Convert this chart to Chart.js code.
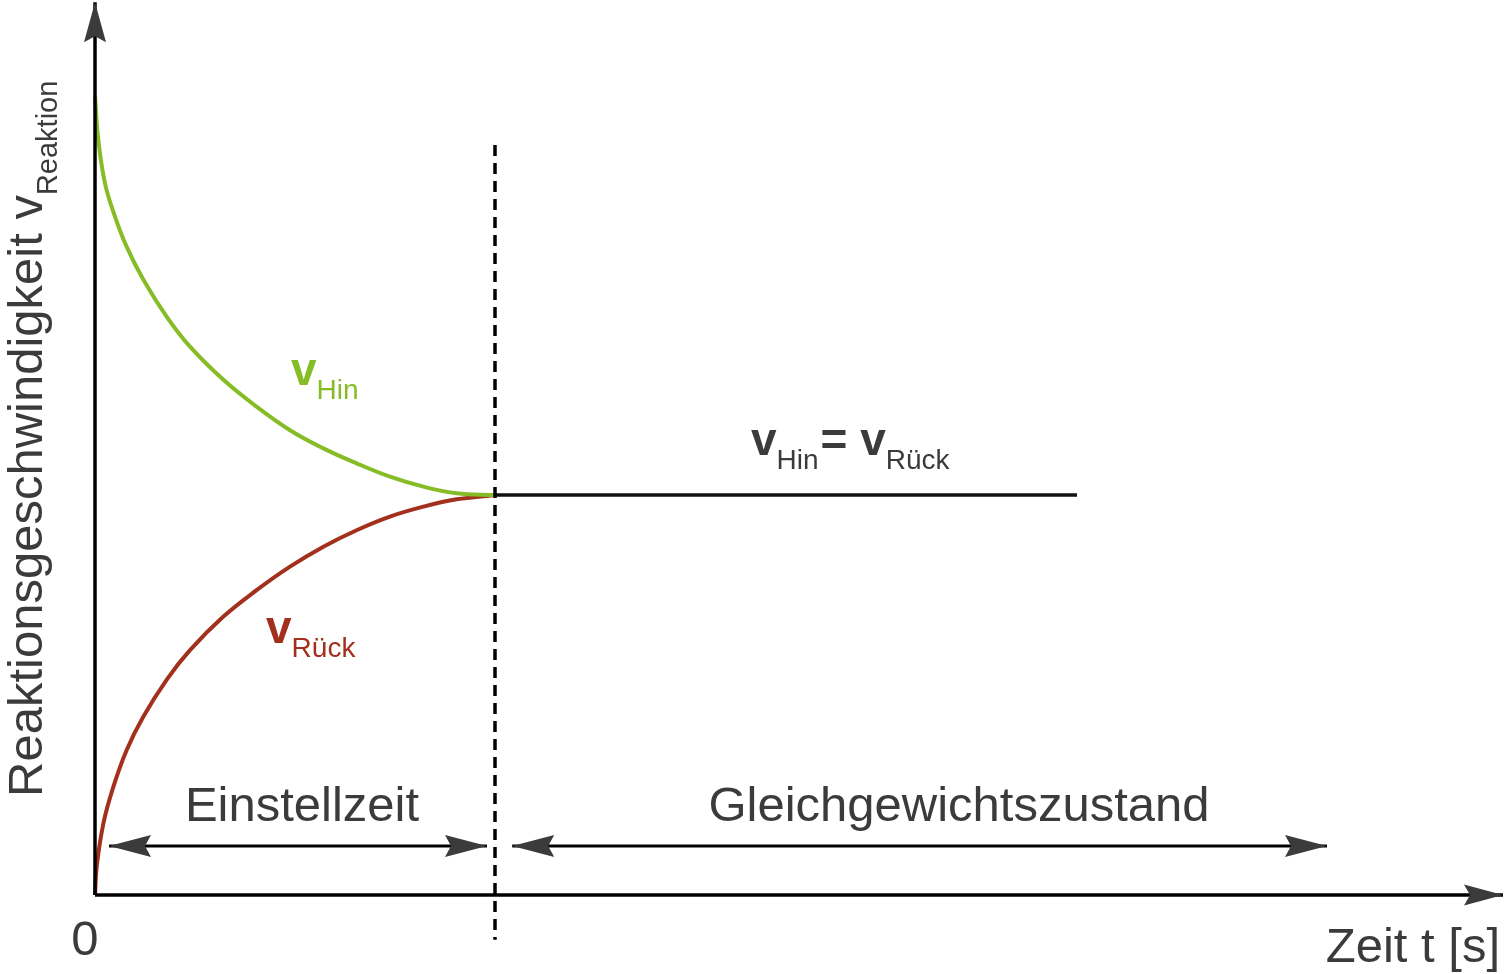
<!DOCTYPE html>
<html>
<head>
<meta charset="utf-8">
<script src="https://cdn.jsdelivr.net/npm/chart.js@4.4.1/dist/chart.umd.min.js"></script>
<style>
  html, body { margin: 0; padding: 0; background: #fff; }
  #chart { display: block; }
</style>
</head>
<body>
<canvas id="chart" width="1505" height="974"></canvas>
<script>
// Hinreaktion (grün) – Zeit t und Geschwindigkeit
var hinT = [0, 0.083, 0.25, 0.5, 0.79, 1.21, 1.79, 2.375, 3.21, 4.04, 4.875, 5.71, 6.54, 7.375, 8.21, 9.04, 10];
var hinV = [99.79, 94.4, 88.96, 84.79, 81.04, 76.9, 72.3, 68.54, 64.4, 61.04, 58.1, 55.83, 53.96, 52.29, 51.04, 50.21, 50];
// Rückreaktion (rot)
var rueckT = [0, 0.042, 0.21, 0.46, 0.79, 1.21, 1.79, 2.375, 3.21, 4.04, 4.875, 5.71, 6.54, 7.375, 8.21, 9.04, 10];
var rueckV = [0, 3.54, 8.96, 13.54, 18.1, 22.3, 26.9, 30.6, 34.8, 38.1, 41.04, 43.54, 45.6, 47.3, 48.54, 49.46, 50];
// Gleichgewicht
var eqT = [10, 24.55];
var eqV = [50, 50];
// Grenze Einstellzeit / Gleichgewicht (gestrichelt)
var grenzeT = [10, 10];
var grenzeV = [93.75, -5.6];
// Achsen
var xAchseT = [0, 35.2];
var yAchseV = [0, 111.6];
// Pfeile für die Bereiche
var einstellT = [0.35, 9.8];
var gleichT = [10.43, 30.8];
var pfeilV = 6.125;

function pts(xs, ys) {
  return xs.map(function (x, i) { return { x: x, y: ys[i] }; });
}

var dunkel = '#3b3b3b';
var gruen = '#86bc25';
var rot = '#a3301d';
var schrift = '"Liberation Sans", Arial, Helvetica, sans-serif';

// Pfeilspitze mit eingekerbter Rückseite
function spitze(ctx, x, y, winkel, len, halb, kerbe) {
  ctx.save();
  ctx.translate(x, y);
  ctx.rotate(winkel);
  ctx.beginPath();
  ctx.moveTo(0, 0);
  ctx.lineTo(-len, -halb);
  ctx.lineTo(-len + kerbe, 0);
  ctx.lineTo(-len, halb);
  ctx.closePath();
  ctx.fillStyle = dunkel;
  ctx.fill();
  ctx.restore();
}

// Text mit Index (z.B. v_Hin)
function mitIndex(ctx, x, y, haupt, index, farbe, fett) {
  ctx.fillStyle = farbe;
  ctx.font = (fett ? 'bold ' : '') + '46px ' + schrift;
  ctx.fillText(haupt, x, y);
  var w = ctx.measureText(haupt).width;
  ctx.font = '28px ' + schrift;
  ctx.fillText(index, x + w, y + 14);
  return x + w + ctx.measureText(index).width;
}

var beschriftung = {
  id: 'beschriftung',
  afterDatasetsDraw: function (chart) {
    var ctx = chart.ctx;
    var sx = chart.scales.x, sy = chart.scales.y;
    var px = function (t) { return sx.getPixelForValue(t); };
    var py = function (v) { return sy.getPixelForValue(v); };
    ctx.save();

    // Achsenpfeile
    spitze(ctx, px(xAchseT[1]), py(0), 0, 39, 10.5, 6);
    spitze(ctx, px(0), py(yAchseV[1]), -Math.PI / 2, 40, 11, 6);

    // Bereichspfeile
    spitze(ctx, px(einstellT[0]), py(pfeilV), Math.PI, 42, 11, 6);
    spitze(ctx, px(einstellT[1]), py(pfeilV), 0, 42, 11, 6);
    spitze(ctx, px(gleichT[0]), py(pfeilV), Math.PI, 42, 11, 6);
    spitze(ctx, px(gleichT[1]), py(pfeilV), 0, 42, 11, 6);

    ctx.textBaseline = 'alphabetic';

    // Bereichsnamen
    ctx.fillStyle = dunkel;
    ctx.font = '49px ' + schrift;
    ctx.textAlign = 'center';
    ctx.fillText('Einstellzeit', px(5.175), py(9.25));
    ctx.fillText('Gleichgewichtszustand', px(21.6), py(9.25));
    ctx.fillText('0', px(-0.25), py(-7.5));
    ctx.textAlign = 'right';
    ctx.fillText('Zeit t [s]', px(35.125), py(-8.4));
    ctx.textAlign = 'left';

    // Kurvennamen
    mitIndex(ctx, px(4.9), py(63.75), 'v', 'Hin', gruen, true);
    mitIndex(ctx, px(4.275), py(31.5), 'v', 'Rück', rot, true);
    var x = mitIndex(ctx, px(16.4), py(55), 'v', 'Hin', dunkel, true);
    ctx.font = 'bold 46px ' + schrift;
    ctx.fillText('= ', x + 2, py(55));
    x += 2 + ctx.measureText('= ').width;
    mitIndex(ctx, x, py(55), 'v', 'Rück', dunkel, true);

    // y-Achsentitel
    ctx.save();
    ctx.translate(px(-1.325), py(12.25));
    ctx.rotate(-Math.PI / 2);
    ctx.fillStyle = dunkel;
    ctx.font = '49px ' + schrift;
    var titel = 'Reaktionsgeschwindigkeit v';
    ctx.fillText(titel, 0, 0);
    var tw = ctx.measureText(titel).width;
    ctx.font = '29px ' + schrift;
    ctx.fillText('Reaktion', tw, 15);
    ctx.restore();

    ctx.restore();
  }
};

function linie(daten, farbe, breite, extra) {
  var d = {
    data: daten,
    showLine: true,
    borderColor: farbe,
    borderWidth: breite,
    pointRadius: 0,
    fill: false,
    tension: 0
  };
  for (var k in extra) d[k] = extra[k];
  return d;
}

new Chart(document.getElementById('chart'), {
  type: 'scatter',
  data: {
    datasets: [
      linie(pts(grenzeT, grenzeV), '#000', 3.5, { borderDash: [11, 7] }),
      linie(pts(xAchseT, [0, 0]), '#000', 3.5),
      linie(pts([0, 0], yAchseV), '#000', 3.5),
      linie(pts(eqT, eqV), '#111', 3.5),
      linie(pts(einstellT, [pfeilV, pfeilV]), '#000', 3),
      linie(pts(gleichT, [pfeilV, pfeilV]), '#000', 3),
      linie(pts(hinT, hinV), gruen, 4, { tension: 0.4 }),
      linie(pts(rueckT, rueckV), rot, 4, { tension: 0.4 })
    ]
  },
  options: {
    responsive: false,
    devicePixelRatio: 1,
    animation: false,
    layout: { padding: 0 },
    scales: {
      x: { type: 'linear', min: -2.375, max: 35.25, display: false },
      y: { type: 'linear', min: -9.875, max: 111.875, display: false }
    },
    plugins: {
      legend: { display: false },
      tooltip: { enabled: false }
    }
  },
  plugins: [beschriftung]
});
</script>
</body>
</html>
